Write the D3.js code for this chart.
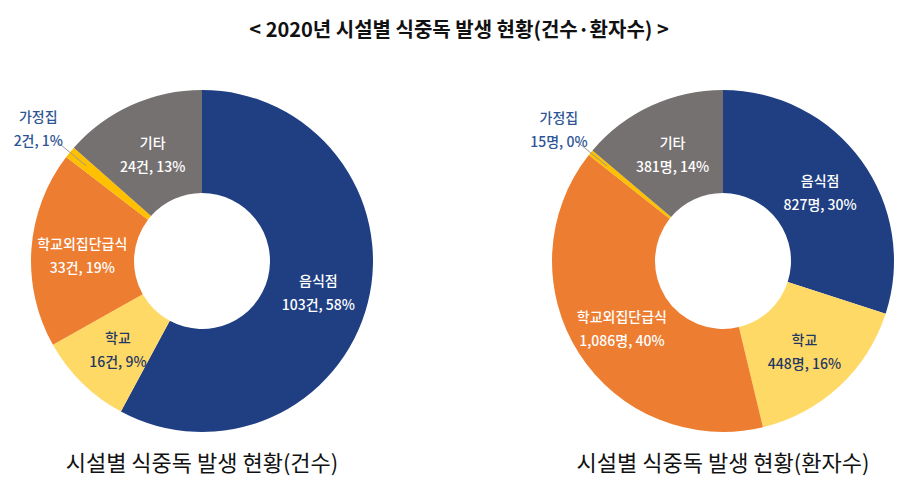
<!DOCTYPE html>
<html><head><meta charset="utf-8">
<script src="https://cdn.jsdelivr.net/npm/d3@7"></script>
<style>body{margin:0;background:#fff}text{font-family:"Noto Sans CJK KR","Noto Sans",sans-serif}</style>
</head><body><svg id="c" width="918" height="497"></svg>
<script>
const categories = ["음식점","학교","학교외집단급식","가정집","기타"];
const casesValues = [103,16,33,2,24];
const casesPct = [58,9,19,1,13];
const patientValues = [827,448,1086,15,381];
const patientPct = [30,16,40,0,14];
const colors = ["#203f83","#ffd966","#ed7d31","#ffc000","#767171"];
const textColors = ["#fff","#1f3864","#fff","#2f5597","#fff"];

const svg = d3.select("#c");
svg.append("text").attr("x",459).attr("y",37).attr("text-anchor","middle")
  .attr("font-size",20).attr("font-weight",700).attr("fill","#111")
  .text("< 2020년 시설별 식중독 발생 현황(건수·환자수) >");

function donut(cx, cy, vals, pcts, unit, caption){
  const g = svg.append("g").attr("transform",`translate(${cx},${cy})`);
  const pie = d3.pie().sort(null).value(d=>d)(vals);
  const arc = d3.arc().innerRadius(68).outerRadius(171);
  g.selectAll("path").data(pie).join("path").attr("d",arc).attr("fill",(d,i)=>colors[i]);
  pie.forEach((d,i)=>{
    const a=(d.startAngle+d.endAngle)/2, sx=Math.sin(a), sy=-Math.cos(a);
    const num = d3.format(",")(vals[i])+unit+", "+pcts[i]+"%";
    let x,y;
    if(categories[i]==="가정집"){
      g.append("line").attr("x1",sx*150).attr("y1",sy*150).attr("x2",sx*190).attr("y2",sy*190)
        .attr("stroke","#999").attr("stroke-width",1);
      x=sx*212; y=sy*212;
    } else { x=sx*120; y=sy*120; }
    const t=g.append("text").attr("text-anchor","middle").attr("font-size",14).attr("font-weight",500)
      .attr("fill",textColors[i]);
    t.append("tspan").attr("x",x).attr("y",y-4).text(categories[i]);
    t.append("tspan").attr("x",x).attr("y",y+20).text(num);
  });
  svg.append("text").attr("x",cx).attr("y",471).attr("text-anchor","middle")
    .attr("font-size",22).attr("fill","#111").text(caption);
}
donut(202,261,casesValues,casesPct,"건","시설별 식중독 발생 현황(건수)");
donut(723,261,patientValues,patientPct,"명","시설별 식중독 발생 현황(환자수)");
</script></body></html>
